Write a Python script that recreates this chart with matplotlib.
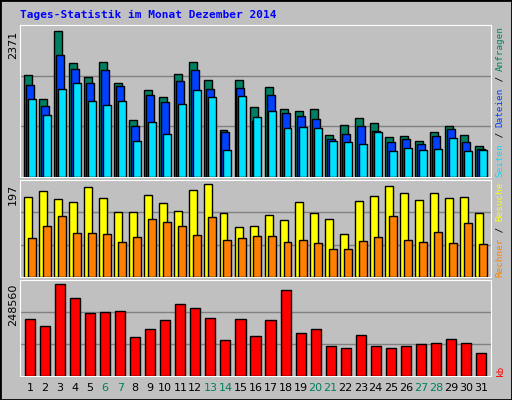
import numpy as np
import matplotlib.pyplot as plt
from matplotlib.patches import Rectangle

days = list(range(1, 32))
weekend = [6, 7, 13, 14, 20, 21, 27, 28]

anfragen = [1647, 1261, 2371, 1856, 1615, 1872, 1518, 923, 1405, 1293, 1679, 1872, 1566, 762, 1566, 1132,
            1454, 1100, 1067, 1100, 681, 842, 955, 874, 649, 665, 585, 730, 826, 681, 504]
dateien = [1486, 1148, 1985, 1759, 1518, 1743, 1470, 826, 1325, 1212, 1550, 1743, 1421, 730, 1438, 907,
           1325, 1035, 987, 939, 617, 697, 826, 746, 569, 617, 536, 665, 778, 569, 456]
seiten = [1261, 1003, 1421, 1518, 1228, 1164, 1228, 585, 890, 697, 1180, 1405, 1293, 440, 1309, 971,
          1067, 794, 810, 794, 585, 569, 536, 730, 424, 472, 440, 456, 633, 424, 440]
besuche = [169, 182, 165, 159, 191, 167, 137, 137, 173, 156, 139, 184, 197, 135, 105, 107,
           131, 120, 159, 135, 122, 90, 161, 171, 193, 178, 163, 178, 167, 169, 135]
rechner = [82, 107, 129, 92, 92, 90, 73, 84, 122, 116, 107, 88, 127, 78, 82, 86,
           86, 73, 78, 71, 60, 60, 75, 84, 129, 78, 73, 95, 71, 114, 69]
kb = [153317, 134266, 248560, 210470, 169646, 172368, 175090, 104328, 126101, 150595, 194141,
      183254, 156038, 96163, 153317, 107050, 150595, 232243, 115214, 126101, 79834, 74390,
      109771, 79834, 74390, 79834, 85277, 87998, 98885, 87998, 60782]

W, H = 512, 400
bg = '#c0c0c0'
fig = plt.figure(figsize=(W / 100, H / 100), dpi=100, facecolor=bg)
fig.patches.append(Rectangle((0, 0), 1, 1, transform=fig.transFigure, fill=False,
                             edgecolor='black', linewidth=2))

def box(y0, y1):
    return [20 / W, 1 - y1 / H, (491 - 20) / W, (y1 - y0) / H]

x = np.arange(len(days))
panels = [
    (box(25, 177), [(anfragen, '#008060', -0.13, 0.53), (dateien, '#0040ff', 0.0, 0.53),
                    (seiten, '#00e0ff', 0.13, 0.53)], max(anfragen), '2371'),
    (box(180, 277), [(besuche, '#ffff00', -0.13, 0.53), (rechner, '#ff8000', 0.13, 0.53)],
     max(besuche), '197'),
    (box(280, 376), [(kb, '#ff0000', 0.0, 0.67)], max(kb), '248560'),
]
axes = []
for rect, series, vmax, lab in panels:
    ax = fig.add_axes(rect, facecolor=bg)
    top = vmax * 1.04
    for vals, col, off, w in series:
        ax.bar(x + off, vals, width=w, color=col, edgecolor='black', linewidth=1, zorder=3)
    for g in (top / 3, 2 * top / 3):
        ax.axhline(g, color='#808080', linewidth=1, zorder=1)
    ax.set_xlim(-0.67, 30.67)
    ax.set_ylim(0, top)
    ax.set_yticks([])
    ax.set_xticks([])
    for s in ax.spines.values():
        s.set_color('white')
    # value label on the left, top aligned with the maximum
    ytop = rect[1] + rect[3] * vmax / top
    fig.text(13 / W, ytop, lab, rotation=90, ha='center', va='top', fontsize=8,
             family='DejaVu Sans')
    axes.append(ax)

axb = axes[2]
axb.set_xticks(x)
axb.set_xticklabels([str(d) for d in days], fontsize=8)
axb.tick_params(length=0, pad=5)
for t, d in zip(axb.get_xticklabels(), days):
    t.set_color('#008060' if d in weekend else 'black')

fig.text(20 / W, 1 - 15 / H, 'Tages-Statistik im Monat Dezember 2014', color='#0000ff',
         fontsize=8, fontweight='bold', family='DejaVu Sans Mono', va='center')

def right_label(y_bottom, parts):
    y = y_bottom
    for txt, col in parts:
        fig.text(500 / W, 1 - y / H, txt, color=col, rotation=90, fontsize=6.7,
                 family='DejaVu Sans Mono', ha='center', va='bottom')
        y -= len(txt) * 5.6

right_label(177, [('Seiten', '#00e0ff'), (' / ', 'black'), ('Dateien', '#0040ff'),
                  (' / ', 'black'), ('Anfragen', '#008060')])
right_label(277, [('Rechner', '#ff8000'), (' / ', 'black'), ('Besuche', '#ffff00')])
right_label(376, [('kb', '#ff0000')])

fig.savefig('out.png', dpi=100, facecolor=bg)
